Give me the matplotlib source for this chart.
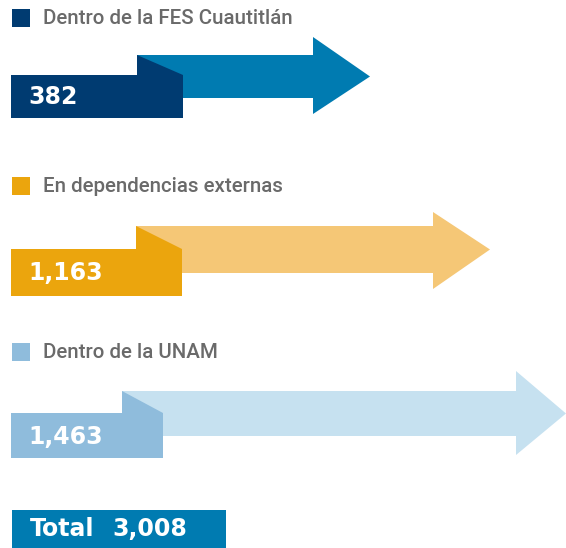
import matplotlib
matplotlib.use("Agg")
import matplotlib.pyplot as plt
from matplotlib.patches import Polygon, Rectangle

# ---- data ----
categories = ["Dentro de la FES Cuautitlán", "En dependencias externas", "Dentro de la UNAM"]
values = [382, 1163, 1463]
total_label = "Total"
total_value = sum(values)

# ---- styles ----
box_colors = ["#003b71", "#eba50d", "#8fbcdc"]
arrow_colors = ["#007bb1", "#f5c776", "#c6e1f0"]
total_color = "#007bb1"
legend_text_color = "#6a6a6a"

# ---- layout (pixel coordinates, y downward) ----
legend_y = [18, 186, 352]
shaft_top = [55, 226, 391]
shaft_bot = [98, 273, 436]
head_top = [37, 212, 371]
head_bot = [114, 289, 455]
shaft_x0 = [137, 136, 122]
head_x0 = [313, 433, 516]
tip_x = [370, 490, 566]
box_right = [183, 182, 163]
box_top = [75, 249, 413]
box_bot = [118, 296, 458]
box_left = 11

fig = plt.figure(figsize=(5.66, 5.48), dpi=100)
ax = fig.add_axes([0, 0, 1, 1])
ax.set_xlim(0, 566)
ax.set_ylim(548, 0)
ax.axis("off")

label_font = ["Roboto", "DejaVu Sans"]
num_font = ["DejaVu Sans"]

for i, (cat, v) in enumerate(zip(categories, values)):
    # legend square
    ax.add_patch(Rectangle((12, legend_y[i] - 9), 18, 18, color=box_colors[i], lw=0))
    ax.text(43, legend_y[i] + 0.5, cat, fontsize=14.8, color=legend_text_color,
            family=label_font, fontweight="medium", va="center", ha="left")
    # arrow
    tip_y = (shaft_top[i] + shaft_bot[i]) / 2
    arrow = [(shaft_x0[i], shaft_top[i]), (head_x0[i], shaft_top[i]),
             (head_x0[i], head_top[i]), (tip_x[i], tip_y),
             (head_x0[i], head_bot[i]), (head_x0[i], shaft_bot[i]),
             (shaft_x0[i], shaft_bot[i])]
    ax.add_patch(Polygon(arrow, closed=True, color=arrow_colors[i], lw=0))
    # value box
    box = [(box_left, box_top[i]), (shaft_x0[i], box_top[i]),
           (shaft_x0[i], shaft_top[i]), (box_right[i], box_top[i]),
           (box_right[i], box_bot[i]), (box_left, box_bot[i])]
    ax.add_patch(Polygon(box, closed=True, color=box_colors[i], lw=0))
    ax.text(28, (box_top[i] + box_bot[i]) / 2 + 1, f"{v:,}", fontsize=17,
            fontweight="bold", color="white", family=num_font,
            va="center", ha="left")

# total box
ax.add_patch(Rectangle((12, 510), 214, 38, color=total_color, lw=0))
ax.text(30, 529, total_label, fontsize=17, fontweight="bold", color="white",
        family=num_font, va="center", ha="left")
ax.text(112, 529, f"{total_value:,}", fontsize=17, fontweight="bold", color="white",
        family=num_font, va="center", ha="left")

fig.savefig("out.png", dpi=100)
